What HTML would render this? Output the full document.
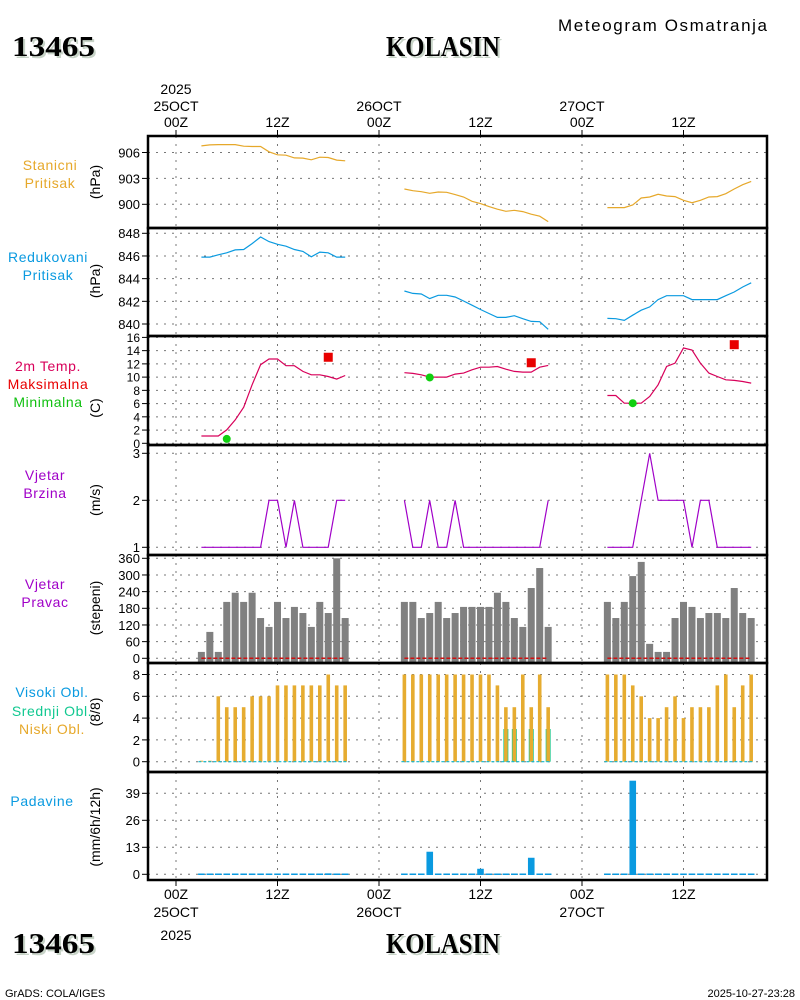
<!DOCTYPE html>
<html><head><meta charset="utf-8"><style>
body{margin:0;background:#fff;}
svg{display:block;font-family:"Liberation Sans",sans-serif;}
</style></head><body>
<svg id="c" width="800" height="1000" viewBox="0 0 800 1000" xmlns="http://www.w3.org/2000/svg">
<rect width="800" height="1000" fill="#fff"/>
<text x="558" y="31" textLength="209" lengthAdjust="spacing" font-size="17" fill="#000">Meteogram Osmatranja</text>
<g font-family="'Liberation Serif',serif" font-weight="bold" font-size="28">
<text x="14" y="58" textLength="83" lengthAdjust="spacingAndGlyphs" fill="#c8d4c8">13465</text>
<text x="12" y="56" textLength="83" lengthAdjust="spacingAndGlyphs" fill="#000">13465</text>
<text x="388" y="58" textLength="114" lengthAdjust="spacingAndGlyphs" fill="#c8d4c8">KOLASIN</text>
<text x="386" y="56" textLength="114" lengthAdjust="spacingAndGlyphs" fill="#000">KOLASIN</text>
<text x="14" y="955" textLength="83" lengthAdjust="spacingAndGlyphs" fill="#c8d4c8">13465</text>
<text x="12" y="953" textLength="83" lengthAdjust="spacingAndGlyphs" fill="#000">13465</text>
<text x="388" y="955" textLength="114" lengthAdjust="spacingAndGlyphs" fill="#c8d4c8">KOLASIN</text>
<text x="386" y="953" textLength="114" lengthAdjust="spacingAndGlyphs" fill="#000">KOLASIN</text>
</g>
<text x="5" y="997" font-size="11">GrADS: COLA/IGES</text>
<text x="795" y="997" font-size="11" text-anchor="end">2025-10-27-23:28</text>
<g id="grid"></g>
<g id="marks"></g>
<g id="frame"></g>
<g id="labels" font-size="13"></g>
</svg>
<script>
// ---- data ----
const hoursG1 = [3,4,5,6,7,8,9,10,11,12,13,14,15,16,17,18,19,20];
const groupOffsets = [0,24,48];
const stationP = [[906.77,906.88,906.92,906.92,906.92,906.73,906.69,906.69,906.08,905.73,905.69,905.38,905.35,905.15,905.46,905.42,905.12,905.04],
 [901.77,901.58,901.46,901.27,901.42,901.39,901.12,900.85,900.35,900.08,899.73,899.43,899.19,899.31,899.16,898.85,898.62,898.0],
 [899.62,899.62,899.62,899.92,900.73,900.85,901.16,900.96,900.89,900.46,900.19,900.46,900.85,900.89,901.23,901.77,902.27,902.65]];
const reducedP = [[845.9,845.9,846.1,846.28,846.54,846.57,847.09,847.67,847.27,847.03,846.86,846.57,846.4,845.93,846.34,846.28,845.9,845.9],
 [842.91,842.7,842.65,842.24,842.53,842.53,842.38,842.03,841.66,841.28,840.93,840.58,840.58,840.73,840.47,840.23,840.2,839.53],
 [840.49,840.47,840.32,840.78,841.22,841.51,842.15,842.5,842.5,842.5,842.15,842.15,842.15,842.15,842.5,842.82,843.26,843.63]];
const temp = [[1.11,1.11,1.11,2.02,3.54,5.45,8.84,11.87,12.73,12.73,11.72,11.72,10.86,10.35,10.35,10.1,9.7,10.25],
 [10.66,10.56,10.35,10.0,10.0,10.0,10.45,10.6,11.11,11.5,11.5,11.6,11.2,10.86,10.76,10.76,11.5,11.77],
 [7.22,7.22,6.06,6.06,6.06,7.07,8.84,11.6,12.1,14.4,14.1,12.1,10.6,10.1,9.6,9.5,9.34,9.09]];
const tMinHours = [6,30,54];
const tMinVals = [0.66,9.95,6.06];
const tMaxHours = [18,42,66];
const tMaxVals = [13.0,12.17,14.9];
const windSpd = [[1,1,1,1,1,1,1,1,2,2,1,2,1,1,1,1,2,2],
 [2,1,1,2,1,1,2,1,1,1,1,1,1,1,1,1,1,2],
 [1,1,1,1,2,3,2,2,2,2,1,2,2,1,1,1,1,1]];
const windDir = [[23,95,23,203,236,203,236,145,113,203,145,185,163,113,203,163,360,145],
 [203,203,145,163,203,145,163,185,185,185,185,236,203,145,113,253,325,113],
 [203,145,203,296,347,52,23,23,145,203,185,145,163,163,145,253,163,145]];
const lowCloud = [[0,0,6,5,5,5,6,6,6,7,7,7,7,7,7,8,7,7],
 [8,8,8,8,8,8,8,8,8,8,8,7,5,5,8,5,8,5],
 [8,8,8,7,6,4,4,5,6,4,5,5,5,7,8,5,7,8]];
const midCloud = [[0,0,0,0,0,0,0,0,0,0,0,0,0,0,0,0,0,0],
 [0,0,0,0,0,0,0,0,0,0,0,0,3,3,0,3,0,3],
 [0,0,0,0,0,0,0,0,0,0,0,0,0,0,0,0,0,0]];
const precip = [[0,0,0,0,0,0,0,0,0,0,0,0,0,0,0,0.8,0,0],
 [0,0,0,11.2,0,0,0,0,0,3.0,0,0,0,0,0,8.3,0,0],
 [0,0,0,45.4,0,0,0,0,0,0,0,0,0,0,0,0,0,0]];
const ticksP1 = [906,903,900];
const ticksP2 = [848,846,844,842,840];
const ticksT = [16,14,12,10,8,6,4,2,0];
const ticksW = [3,2,1];
const ticksD = [360,300,240,180,120,60,0];
const ticksC = [8,6,4,2,0];
const ticksR = [39,26,13,0];
const timeTicks = [0,12,24,36,48,60];
const timeLabels = ["00Z","12Z","00Z","12Z","00Z","12Z"];
const dateLabels = ["25OCT","","26OCT","","27OCT",""];

// ---- layout ----
const X0=148,X1=767;
const xT = h => 176 + h*8.4583;
function lin(v0,y0,v1,y1){return v=>y0+(v-v0)*(y1-y0)/(v1-v0);}
const yP1=lin(906,152.5,900,204.3), yP2=lin(848,233.3,840,324), yT=lin(16,337.4,0,443.3),
 yW=lin(3,453.3,1,547.3), yD=lin(360,558.3,0,658.3), yC=lin(8,674.5,0,761.7), yR=lin(39,793.3,0,874.3);
const panels=[[136,228],[228,336],[336,445],[445,555],[555,663],[663,772],[772,880]];
const NS="http://www.w3.org/2000/svg";
function el(tag,attrs,parent){const e=document.createElementNS(NS,tag);for(const k in attrs)e.setAttribute(k,attrs[k]);document.getElementById(parent).appendChild(e);return e;}
function txt(s,attrs){const e=el('text',attrs,'labels');e.textContent=s;return e;}

// grid
const allTicks=[[ticksP1,yP1,0],[ticksP2,yP2,1],[ticksT,yT,2],[ticksW,yW,3],[ticksD,yD,4],[ticksC,yC,5],[ticksR,yR,6]];
allTicks.forEach(([tk,f,pi])=>{
  tk.forEach(v=>{
    const y=f(v);
    const g=el('line',{x1:X0,x2:X1,y1:y,y2:y,stroke:'#777','stroke-width':1,'stroke-dasharray':'2,6'},'grid');
    
    
    const t=el('line',{x1:X0-6,x2:X0,y1:y,y2:y,stroke:'#000','stroke-width':1},'frame');
    
    
    const fs = pi===2?12:13;
    const l=txt(String(v),{x:140,y:y+fs*0.38,'text-anchor':'end','font-size':fs});
    
    
  });
});
timeTicks.forEach((h,i)=>{
  const x=xT(h);
  panels.forEach(([a,b])=>{
    const g=el('line',{x1:x,x2:x,y1:a,y2:b,stroke:'#777','stroke-width':1,'stroke-dasharray':'2,6'},'grid');
    
    
  });
  const t1=el('line',{x1:x,x2:x,y1:130,y2:136,stroke:'#000'},'frame');
  
  
  const t2=el('line',{x1:x,x2:x,y1:880,y2:886,stroke:'#000'},'frame');
  
  
  const a=txt(timeLabels[i],{x:x,y:127,'text-anchor':'middle','font-size':14});
  
  
  const b=txt(timeLabels[i],{x:x,y:899,'text-anchor':'middle','font-size':14});
  
  
  if(dateLabels[i]){
    const c=txt(dateLabels[i],{x:x,y:111,'text-anchor':'middle','font-size':14});
    
    
    const d=txt(dateLabels[i],{x:x,y:917,'text-anchor':'middle','font-size':14});
    
    
  }
});
const yr1=txt('2025',{x:xT(0),y:94,'text-anchor':'middle','font-size':14});


const yr2=txt('2025',{x:xT(0),y:940,'text-anchor':'middle','font-size':14});



// series
function line(arr,f,color,name,w){
  arr.forEach((vals,g)=>{
    const pts=vals.map((v,i)=>xT(hoursG1[i]+groupOffsets[g]).toFixed(1)+','+f(v).toFixed(1)).join(' ');
    const p=el('polyline',{points:pts,fill:'none',stroke:color,'stroke-width':w||1.2},'marks');
    
    
  });
}
line(stationP,yP1,'#e6a82a','station-pressure-line');
line(reducedP,yP2,'#0a9ae0','reduced-pressure-line');
line(temp,yT,'#d8005a','temperature-line');
line(windSpd,yW,'#a000c8','wind-speed-line');
tMinHours.forEach((h,i)=>{
  const c=el('circle',{cx:xT(h),cy:yT(tMinVals[i]),r:4,fill:'#10d010'},'marks');
  
  
});
tMaxHours.forEach((h,i)=>{
  const r=el('rect',{x:xT(h)-4.5,y:yT(tMaxVals[i])-4.5,width:9,height:9,fill:'#e80000'},'marks');
  
  
});
// wind direction bars
windDir.forEach((vals,g)=>{
  vals.forEach((v,i)=>{
    const x=xT(hoursG1[i]+groupOffsets[g]);
    const r=el('rect',{x:x-3.5,y:yD(v),width:7,height:663-yD(v),fill:'#808080'},'marks');
    
    
  });
  const l=el('line',{x1:xT(hoursG1[0]+groupOffsets[g]),x2:xT(hoursG1[17]+groupOffsets[g]),y1:yD(0),y2:yD(0),stroke:'#d01010','stroke-width':1.5,'stroke-dasharray':'4,2'},'marks');
  
  
});
// clouds
lowCloud.forEach((vals,g)=>{
  vals.forEach((v,i)=>{
    const x=xT(hoursG1[i]+groupOffsets[g]);
    const m=midCloud[g][i];
    if(m>0){
      const r=el('rect',{x:x-2.5,y:yC(m),width:5,height:yC(0)-yC(m),fill:'#20c890'},'marks');
      
      
    }
    const h=Math.max(yC(0)-yC(v),1);
    const r=el('rect',{x:x-1.8,y:yC(0)-h,width:3.6,height:h,fill:'#e6ac30'},'marks');
    
    
  });
  const l=el('line',{x1:xT(hoursG1[0]+groupOffsets[g])-3,x2:xT(hoursG1[17]+groupOffsets[g])+3,y1:yC(0),y2:yC(0),stroke:'#10b8d0','stroke-width':1.2,'stroke-dasharray':'3,2'},'marks');
  
  
});
// precipitation
precip.forEach((vals,g)=>{
  vals.forEach((v,i)=>{
    const x=xT(hoursG1[i]+groupOffsets[g]);
    const h=Math.max(yR(0)-yR(v),1.5);
    const r=el('rect',{x:x-3.3,y:yR(0)-h+0.7,width:6.6,height:h,fill:'#0a9ae0'},'marks');
    
    
  });
});
// frame
panels.forEach(([a,b])=>{
  const r=el('rect',{x:X0,y:a,width:X1-X0,height:b-a,fill:'none',stroke:'#000','stroke-width':2.5},'frame');
  
  
});
// panel labels
const plabels=[
 ['Stanicni','#e6a82a',50,170],['Pritisak','#e6a82a',50,188],
 ['Redukovani','#0a9ae0',48,262],['Pritisak','#0a9ae0',48,280],
 ['2m Temp.','#d8005a',48,371],['Maksimalna','#e80000',48,389],['Minimalna','#10c010',48,407],
 ['Vjetar','#a000c8',45,480],['Brzina','#a000c8',45,498],
 ['Vjetar','#a000c8',45,589],['Pravac','#a000c8',45,607],
 ['Visoki Obl.','#0a9ae0',52,697],['Srednji Obl.','#10c890',52,716],['Niski Obl.','#e6a82a',52,734],
 ['Padavine','#0a9ae0',42,806]];
plabels.forEach(([s,c,x,y])=>{
  const t=txt(s,{x:x,y:y,'text-anchor':'middle',fill:c,'font-size':14,'letter-spacing':0.6});
  
  
});
const units=[['(hPa)',182],['(hPa)',281],['(C)',408],['(m/s)',500],['(stepeni)',608],['(8/8)',712],['(mm/6h/12h)',827]];
units.forEach(([s,y])=>{
  const t=txt(s,{x:0,y:0,'text-anchor':'middle','font-size':14,transform:'translate(100,'+y+') rotate(-90)'});
  
  
});
</script>
</body></html>
